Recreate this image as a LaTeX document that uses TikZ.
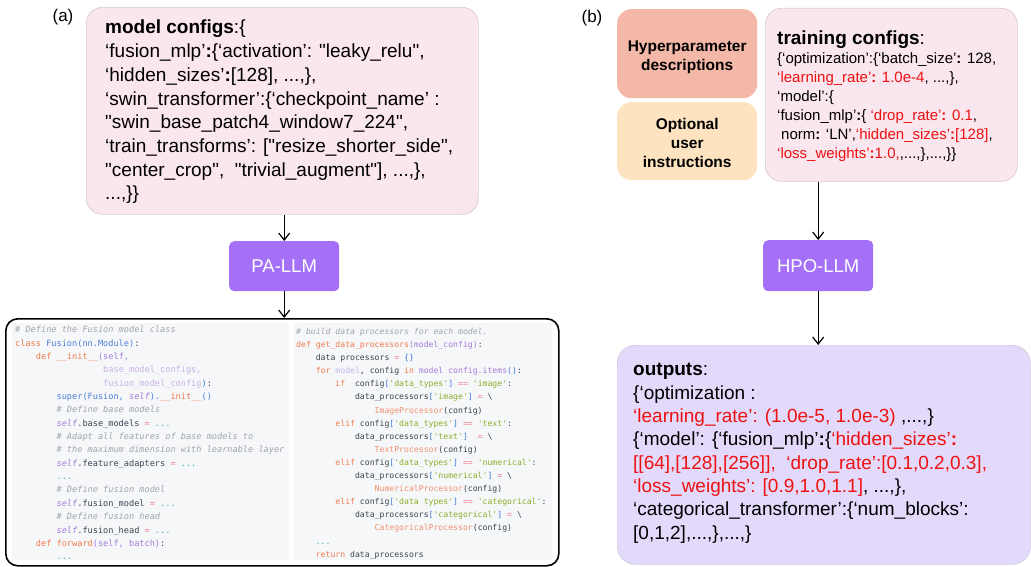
\documentclass[tikz,border=0pt]{standalone}
\usepackage{fontspec}
\newfontfamily\lsans{Liberation Sans}
\newfontfamily\codefont{DejaVu Sans Mono}
\usetikzlibrary{arrows.meta}
\definecolor{pinkf}{HTML}{FAE6EE}
\definecolor{pinkd}{HTML}{D9CCD2}
\definecolor{llmc}{HTML}{A370F7}
\definecolor{outf}{HTML}{E3DAFB}
\definecolor{outd}{HTML}{D2CBE2}
\definecolor{hypf}{HTML}{F4B8A8}
\definecolor{optf}{HTML}{FDE3C0}
\definecolor{redt}{HTML}{EE1111}
\definecolor{codebg}{HTML}{F6F7F9}
\definecolor{ccm}{HTML}{A0A4AA}
\definecolor{ckw}{HTML}{F27B4E}
\definecolor{cfn}{HTML}{4F7FD6}
\definecolor{cpp}{HTML}{A27CD9}
\definecolor{clp}{HTML}{C7B1E6}
\definecolor{cop}{HTML}{F07A8A}
\definecolor{cdt}{HTML}{3FB3A3}
\definecolor{cgs}{HTML}{8AAE2A}
\definecolor{cbr}{HTML}{3E7AE0}
\definecolor{cip}{HTML}{F2906E}
\definecolor{cdk}{HTML}{3C4250}
\newcommand\Rd[1]{\textcolor{redt}{#1}}
\newcommand\ci[1]{\hspace*{#1\fontcharwd\font`0}}
\newcommand\xcm[1]{{\color{ccm}\itshape #1}}
\newcommand\xkw[1]{\textcolor{ckw}{#1}}
\newcommand\xfn[1]{\textcolor{cfn}{#1}}
\newcommand\xpp[1]{\textcolor{cpp}{#1}}
\newcommand\xlp[1]{\textcolor{clp}{#1}}
\newcommand\xsl[1]{{\color{cpp}\itshape #1}}
\newcommand\xop[1]{\textcolor{cop}{#1}}
\newcommand\xdt[1]{\textcolor{cdt}{#1}}
\newcommand\xgs[1]{\textcolor{cgs}{#1}}
\newcommand\xbr[1]{\textcolor{cbr}{#1}}
\newcommand\xip[1]{\textcolor{cip}{#1}}
\begin{document}
\begin{tikzpicture}[x=1pt,y=-1pt,
  cfgbox/.style={anchor=north west, rounded corners=16pt, fill=pinkf, draw=pinkd, line width=0.7pt, inner sep=0},
  outbox/.style={anchor=north west, rounded corners=18pt, fill=outf, draw=outd, line width=0.7pt, inner sep=0},
  sidebox/.style={anchor=north west, rounded corners=14pt, inner sep=0},
  sidetxt/.style={inner sep=0, align=center, text=black,
    font=\lsans\bfseries\fontsize{15.5}{19}\selectfont},
  llm/.style={anchor=north west, rounded corners=5pt, fill=llmc, text=white, inner sep=0,
    font=\lsans\fontsize{18.5}{20}\selectfont},
  txt/.style={anchor=north west, inner sep=0, align=left, text=black},
  codetxt/.style={anchor=north west, inner sep=0, align=left, text=cdk},
  lbl/.style={inner sep=0, font=\lsans\fontsize{17}{20}\selectfont},
  arr/.style={-{Straight Barb[length=7pt,width=11pt]}, line width=1.2pt}
]
\useasboundingbox (0,0) rectangle (1031,567);

% (a)
\node[lbl] (la) at (63,17) {(a)};
\node[cfgbox, minimum width=392pt, minimum height=207pt] (mc) at (86,7) {};
\node[txt, font=\lsans\fontsize{19}{23.7}\selectfont] (mct) at (105,20) {\vphantom{\{}\textbf{model configs}:\{\\
‘fusion\_mlp’\textbf{:}\{‘activation’: "leaky\_relu",\\
‘hidden\_sizes’\textbf{:}[128], ...,\},\\
‘swin\_transformer’:\{‘checkpoint\_name’ :\\
"swin\_base\_patch4\_window7\_224",\\
‘train\_transforms’: ["resize\_shorter\_side",\\
"center\_crop", \ "trivial\_augment"], ...,\},\\
...,\}\}};

\node[llm, minimum width=110pt, minimum height=50pt] (pa) at (229,241) {PA-LLM};

\node[anchor=north west, draw=black, fill=white, line width=1.6pt, rounded corners=12pt,
  minimum width=553pt, minimum height=247pt, inner sep=0] (code) at (5,318) {};
\fill[codebg] (12,323) rectangle (289,560);
\fill[codebg] (294,323) rectangle (552,560);

\node[codetxt, font=\codefont\fontsize{8.6}{13.35}\selectfont] (codeL) at (15,326) {%
\xcm{\# Define the Fusion model class}\\
\xkw{class} \xfn{Fusion(nn.Module)}:\\
\ci{4}\xkw{def} \xkw{\_\_init\_\_}\xpp{(self,}\\
\ci{17}\xlp{base\_model\_configs,}\\
\ci{17}\xlp{fusion\_model\_config}\xbr{)}:\\
\ci{8}\xfn{super(Fusion,} \xsl{self}\xfn{).}\xkw{\_\_init\_\_}\xfn{()}\\
\ci{8}\xcm{\# Define base models}\\
\ci{8}\xsl{self}.base\_models \xop{=} \xdt{...}\\
\ci{8}\xcm{\# Adapt all features of base models to}\\
\ci{8}\xcm{\# the maximum dimension with learnable layer}\\
\ci{8}\xsl{self}.feature\_adapters \xop{=} \xdt{...}\\
\ci{8}\xdt{...}\\
\ci{8}\xcm{\# Define fusion model}\\
\ci{8}\xsl{self}.fusion\_model \xop{=} \xdt{...}\\
\ci{8}\xcm{\# Define fusion head}\\
\ci{8}\xsl{self}.fusion\_head \xop{=} \xdt{...}\\
\ci{4}\xkw{def} \xkw{forward}\xpp{(self, batch)}:\\
\ci{8}\xdt{...}};

\node[codetxt, font=\codefont\fontsize{8.15}{13.1}\selectfont] (codeR) at (296,328) {%
\xcm{\# build data processors for each model.}\\
\xkw{def} \xkw{get\_data\_processors}\xpp{(model\_config)}:\\
\ci{4}data processors \xop{=} \xbr{\{\}}\\
\ci{4}\xkw{for} \xlp{model}, config \xkw{in} \xpp{model config.items}\xbr{()}:\\
\ci{8}\xkw{if}\ci{2}config\xbr{[}\xgs{'data\_types'}\xbr{]} \xop{==} \xgs{'image'}:\\
\ci{12}data\_processors\xbr{[}\xgs{'image'}\xbr{]} \xop{=} \textbackslash\\
\ci{16}\xip{ImageProcessor}(config)\\
\ci{8}\xkw{elif} config\xbr{[}\xgs{'data\_types'}\xbr{]} \xop{==} \xgs{'text'}:\\
\ci{12}data\_processors\xbr{[}\xgs{'text'}\xbr{]}\ci{2}\xop{=} \textbackslash\\
\ci{16}\xip{TextProcessor}(config)\\
\ci{8}\xkw{elif} config\xbr{[}\xgs{'data\_types'}\xbr{]} \xop{==} \xgs{'numerical'}:\\
\ci{12}data\_processors\xbr{[}\xgs{'numerical'}\xbr{]} \xop{=} \textbackslash\\
\ci{16}\xip{NumericalProcessor}(config)\\
\ci{8}\xkw{elif} config\xbr{[}\xgs{'data types'}\xbr{]} \xop{==} \xgs{'categorical'}:\\
\ci{12}data\_processors\xbr{[}\xgs{'categorical'}\xbr{]} \xop{=} \textbackslash\\
\ci{16}\xip{CategoricalProcessor}(config)\\
\ci{4}\xdt{...}\\
\ci{4}\xkw{return} data\_processors};

\draw[arr] (mc.south -| pa.north) -- (pa.north);
\draw[arr] (pa.south) -- (pa.south |- code.north);

% (b)
\node[lbl] (lb) at (592,18) {(b)};
\node[sidebox, fill=hypf, minimum width=140pt, minimum height=89pt] (hyp) at (617,9) {};
\node[sidetxt] (hypt) at ([yshift=-4pt]hyp.center) {Hyperparameter\\descriptions};
\node[sidebox, fill=optf, minimum width=140pt, minimum height=78pt] (opt) at (617,102) {};
\node[sidetxt] (optt) at ([yshift=-2pt]opt.center) {Optional\\user\\instructions};
\node[cfgbox, minimum width=252pt, minimum height=173pt] (tc) at (765,8) {};
\node[txt, font=\lsans\fontsize{15}{19}\selectfont] (tct) at (777,30.5) {{\fontsize{19}{19}\selectfont\textbf{training configs}:}\\
\{‘optimization’:\{‘batch\_size’\textbf{:} 128,\\
\Rd{‘learning\_rate’\textbf{:} 1.0e-4}, ...,\},\\
‘model’:\{\\
‘fusion\_mlp’\textbf{:}\{ \Rd{‘drop\_rate’\textbf{:} 0.1},\\
\hspace*{4pt}norm\textbf{:} ‘LN’,\Rd{‘hidden\_sizes’\textbf{:}[128]},\\
\Rd{‘loss\_weights’\textbf{:}1.0,},...,\},...,\}\}};

\node[llm, minimum width=110pt, minimum height=51pt] (hpo) at (763,240) {HPO-LLM};
\node[outbox, minimum width=413pt, minimum height=219pt] (out) at (617,345) {};
\node[txt, font=\lsans\fontsize{19}{23.3}\selectfont] (outt) at (633,362) {\vphantom{\{}\textbf{outputs}:\\
\{‘optimization :\\
\Rd{‘learning\_rate’: (1.0e-5, 1.0e-3)} ,...,\}\\
\{‘model’: \{‘fusion\_mlp’\textbf{:}\{\Rd{‘hidden\_sizes’\textbf{:}}\\
\Rd{[[64],[128],[256]], \ ‘drop\_rate’:[0.1,0.2,0.3],}\\
\Rd{‘loss\_weights’: [0.9,1.0,1.1]}, ...,\},\\
‘categorical\_transformer’:\{‘num\_blocks’:\\
{[}0,1,2],...,\},...,\}};

\draw[arr] (tc.south -| hpo.north) -- (hpo.north);
\draw[arr] (hpo.south) -- (hpo.south |- out.north);
\end{tikzpicture}
\end{document}
